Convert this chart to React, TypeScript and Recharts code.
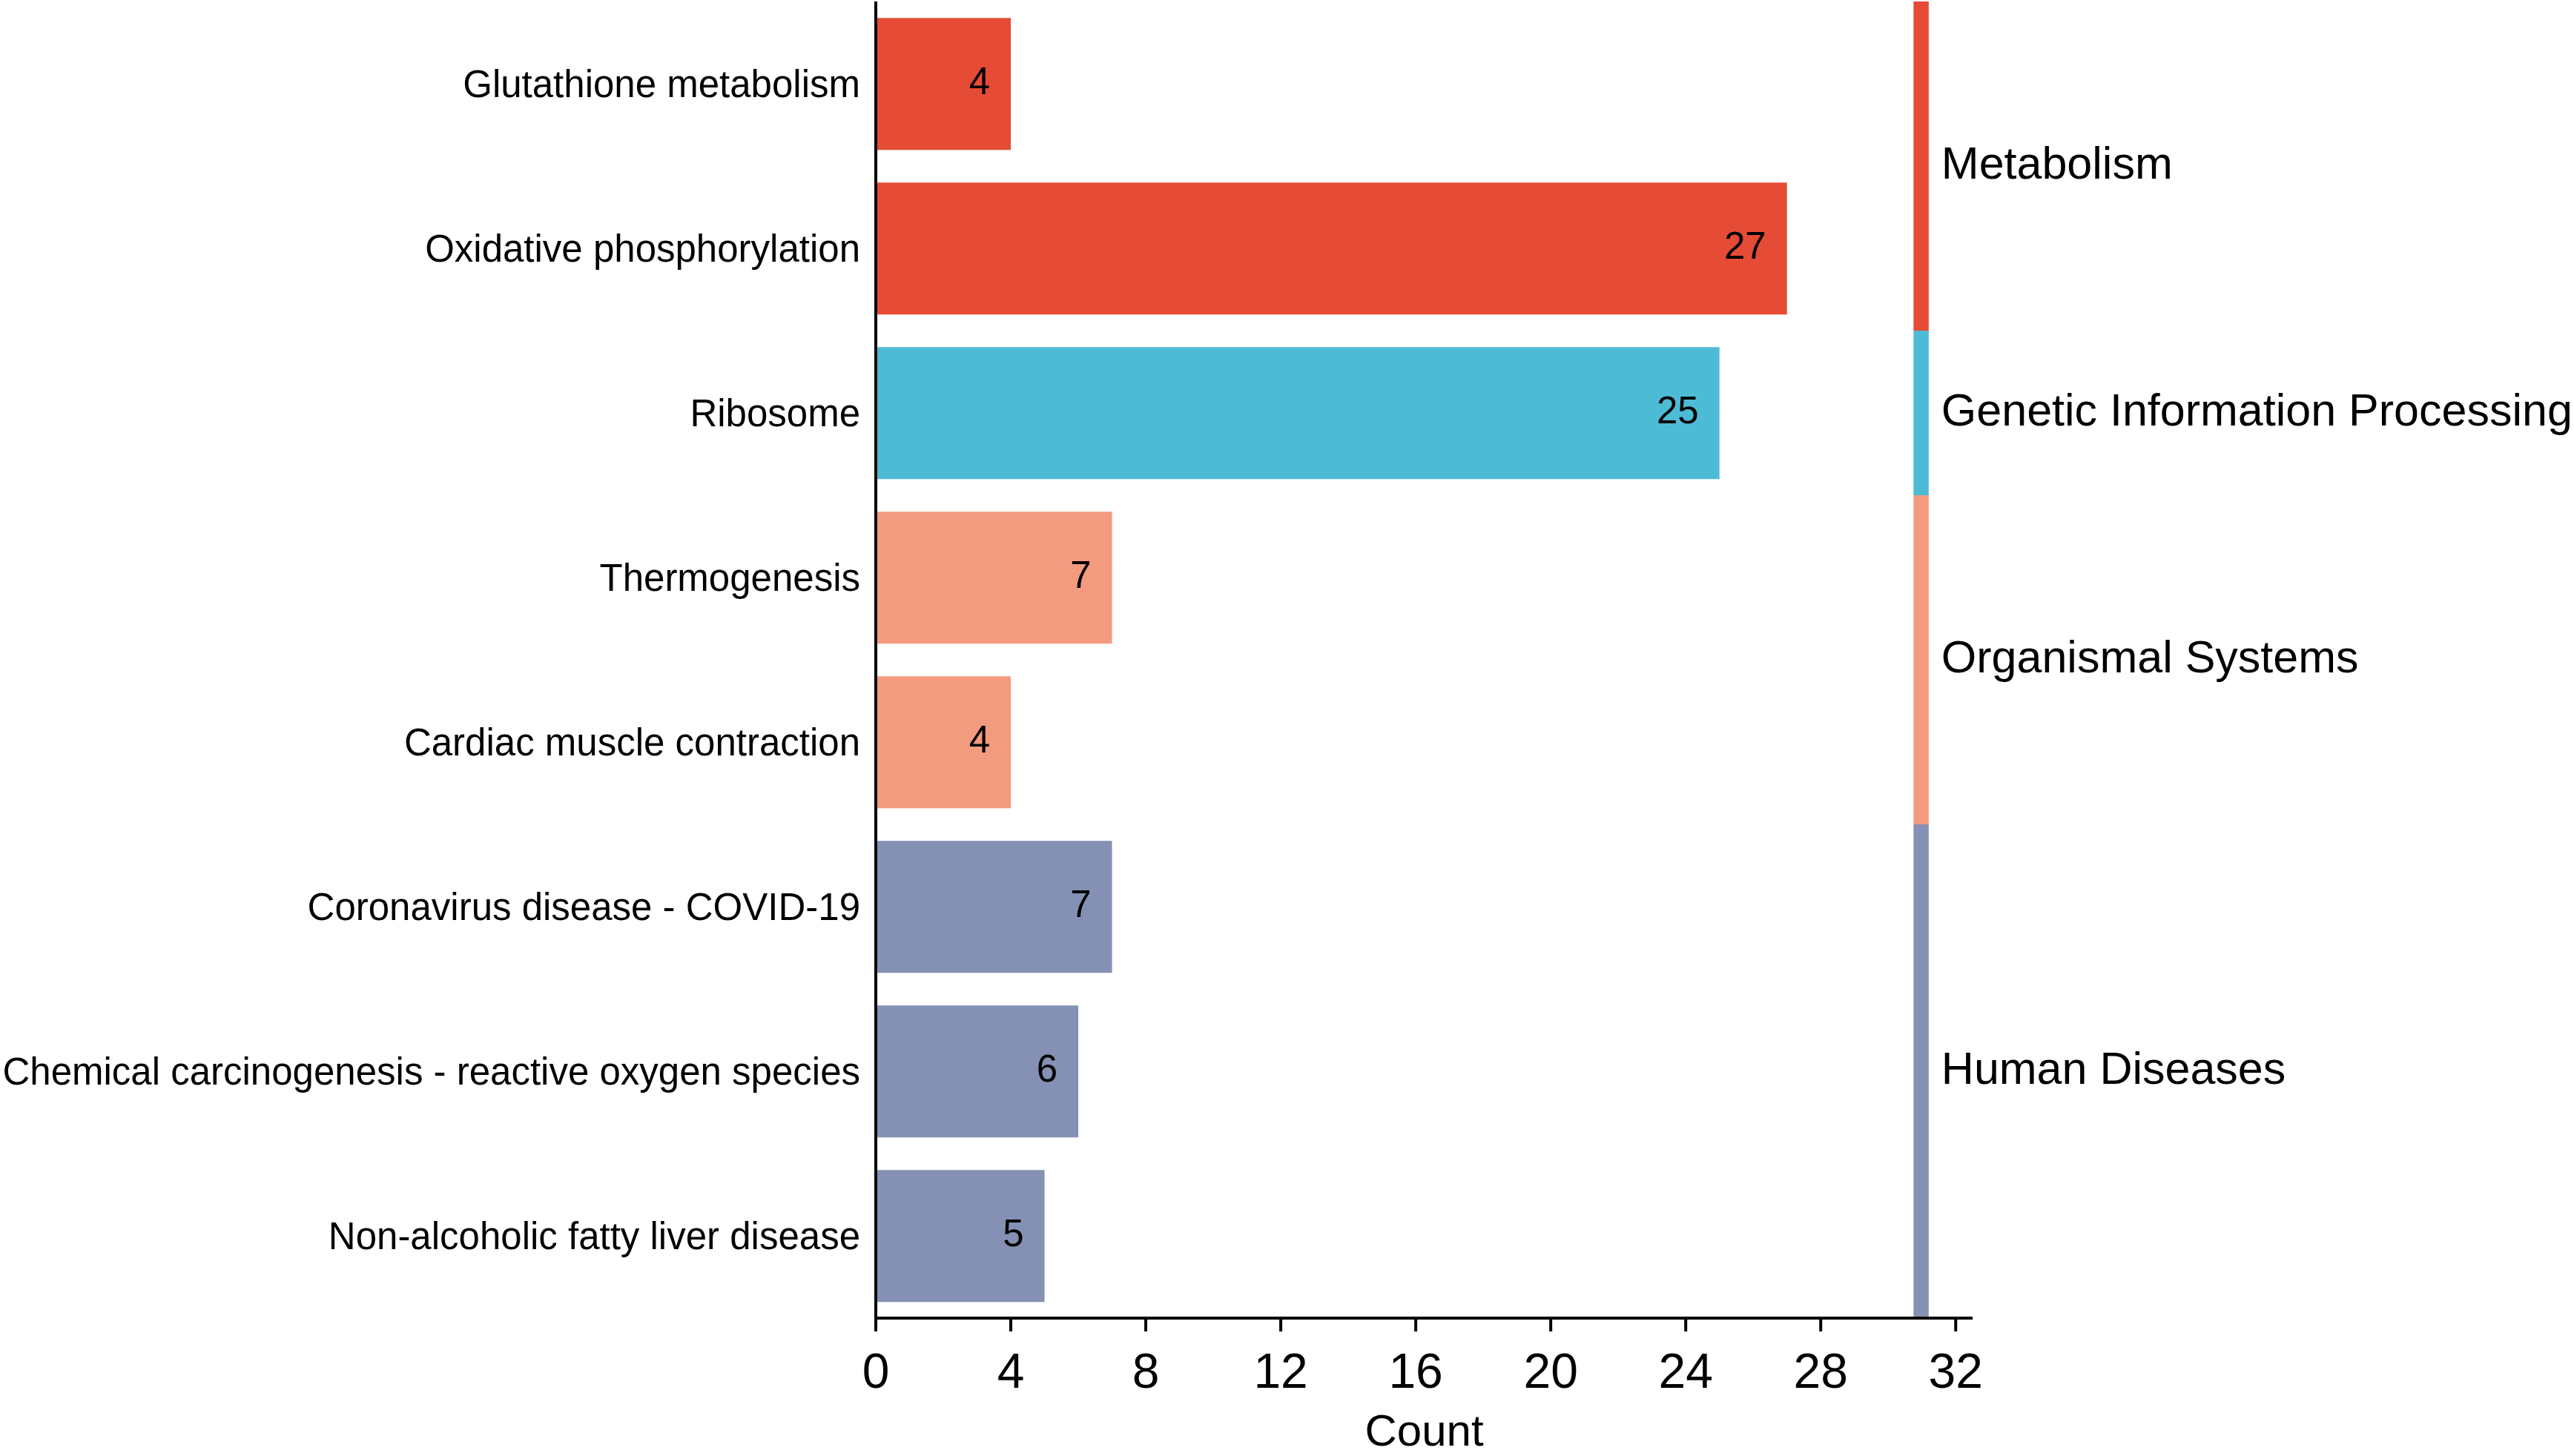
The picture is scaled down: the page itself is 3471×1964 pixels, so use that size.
import React from "react"
import { Bar, BarChart, Cell, LabelList, ReferenceArea, XAxis, YAxis } from "recharts"

// KEGG pathways, top to bottom
const pathways = [
  "Glutathione metabolism",
  "Oxidative phosphorylation",
  "Ribosome",
  "Thermogenesis",
  "Cardiac muscle contraction",
  "Coronavirus disease - COVID-19",
  "Chemical carcinogenesis - reactive oxygen species",
  "Non-alcoholic fatty liver disease",
]

const counts = [4, 27, 25, 7, 4, 7, 6, 5]

const pathwayClass = [
  "Metabolism",
  "Metabolism",
  "Genetic Information Processing",
  "Organismal Systems",
  "Organismal Systems",
  "Human Diseases",
  "Human Diseases",
  "Human Diseases",
]

const classNames = ["Metabolism", "Genetic Information Processing", "Organismal Systems", "Human Diseases"]
const classColors = ["#E64B35", "#4DBBD5", "#F39B7F", "#8491B4"]

const xTicks = [0, 4, 8, 12, 16, 20, 24, 28, 32]

const FONT = "'Liberation Sans', Arial, Helvetica, sans-serif"

const colorOf = (cls: string) => classColors[classNames.indexOf(cls)]

const chartData = pathways.map((pathway, i) => ({
  pathway,
  count: counts[i],
  cls: pathwayClass[i],
}))

// first and last pathway of every class, for the side strip
const groups = classNames.map((cls) => {
  const members = pathways.filter((_, i) => pathwayClass[i] === cls)
  return { cls, first: members[0], last: members[members.length - 1] }
})

export default function App() {
  return (
    <div style={{ position: "absolute", left: 0, top: 0, fontFamily: FONT }}>
      <BarChart
        width={3471}
        height={1964}
        data={chartData}
        layout="vertical"
        barCategoryGap="10%"
        margin={{ top: 2, right: 811, bottom: 0, left: 0 }}
      >
        <XAxis
          type="number"
          domain={[0, 32.5]}
          ticks={xTicks}
          height={186}
          axisLine={{ stroke: "#000", strokeWidth: 4 }}
          tickLine={{ stroke: "#000", strokeWidth: 4 }}
          tickSize={18}
          tickMargin={29}
          tick={{ fontSize: 66, fill: "#000", fontFamily: FONT }}
          label={{ value: "Count", position: "insideBottom", offset: 14, fontSize: 60, fill: "#000", fontFamily: FONT }}
        />
        <YAxis
          type="category"
          dataKey="pathway"
          width={1181}
          interval={0}
          axisLine={{ stroke: "#000", strokeWidth: 4 }}
          tickLine={false}
          tickSize={0}
          tickMargin={21}
          tick={{ fontSize: 51, fill: "#000", fontFamily: FONT }}
        />
        <Bar dataKey="count" isAnimationActive={false}>
          {chartData.map((d) => (
            <Cell key={d.pathway} fill={colorOf(d.cls)} />
          ))}
          <LabelList
            dataKey="count"
            position="insideRight"
            offset={28}
            dy={-4}
            fontSize={51}
            fill="#000"
            fontFamily={FONT}
          />
        </Bar>
        {groups.map((g) => (
          <ReferenceArea
            key={g.cls}
            x1={30.75}
            x2={31.2}
            y1={g.first}
            y2={g.last}
            fill={colorOf(g.cls)}
            fillOpacity={1}
            stroke="none"
            ifOverflow="visible"
            label={{
              value: g.cls,
              position: "right",
              offset: 17,
              dy: -5,
              fontSize: 61,
              fill: "#000",
              fontFamily: FONT,
            }}
          />
        ))}
      </BarChart>
    </div>
  )
}
